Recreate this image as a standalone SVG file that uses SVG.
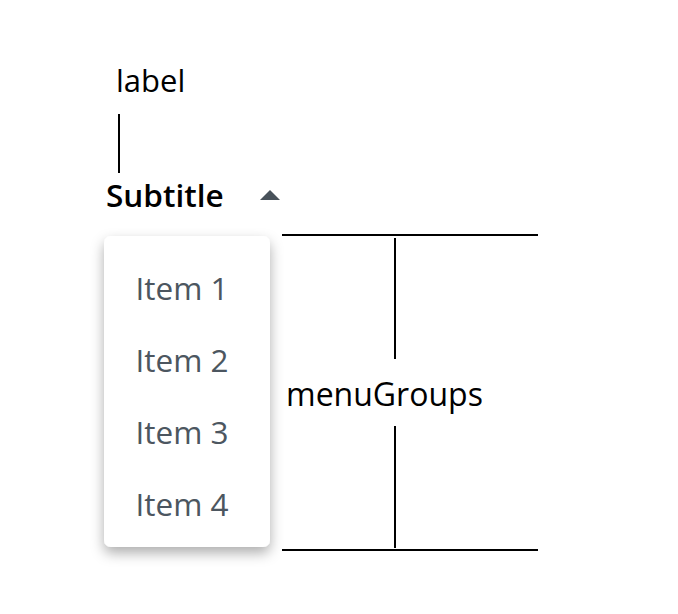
<svg xmlns="http://www.w3.org/2000/svg" width="678" height="614" viewBox="0 0 678 614">
<style>
.t{font-family:"Open Sans","Noto Sans",sans-serif;fill:#000}
.item{font-family:"Open Sans","Noto Sans",sans-serif;font-size:31.5px;fill:#4c5660}
.ln{stroke:#000;stroke-width:2;fill:none}
</style>
<defs>
<filter id="sh" x="-30%" y="-20%" width="160%" height="150%">
<feDropShadow dx="0" dy="6" stdDeviation="6.5" flood-color="#000" flood-opacity="0.32"/>
</filter>
</defs>
<rect width="678" height="614" fill="#fff"/>
<g id="label"><text class="t" x="116" y="92" font-size="31">label</text></g>
<g id="subtitle">
<text class="t" x="106" y="207" font-size="31.5" font-weight="600">Subtitle</text>
<polygon points="260,200 270,190 280,200" fill="#48525a"/>
</g>
<g id="menu">
<rect x="104" y="236" width="166" height="311" rx="7" fill="#fff" filter="url(#sh)"/>
<text class="item" x="135.5" y="300">Item 1</text>
<text class="item" x="135.5" y="372">Item 2</text>
<text class="item" x="135.5" y="444">Item 3</text>
<text class="item" x="135.5" y="516">Item 4</text>
</g>
<g id="menuGroups"><text class="t" x="286" y="406" font-size="32">menuGroups</text></g>
<g id="connectors">
<line class="ln" x1="119" y1="114" x2="119" y2="173"/>
<line class="ln" x1="282" y1="235" x2="538" y2="235"/>
<line class="ln" x1="282" y1="550" x2="538" y2="550"/>
<line class="ln" x1="395" y1="238" x2="395" y2="359"/>
<line class="ln" x1="395" y1="426" x2="395" y2="548"/>
</g>
</svg>
